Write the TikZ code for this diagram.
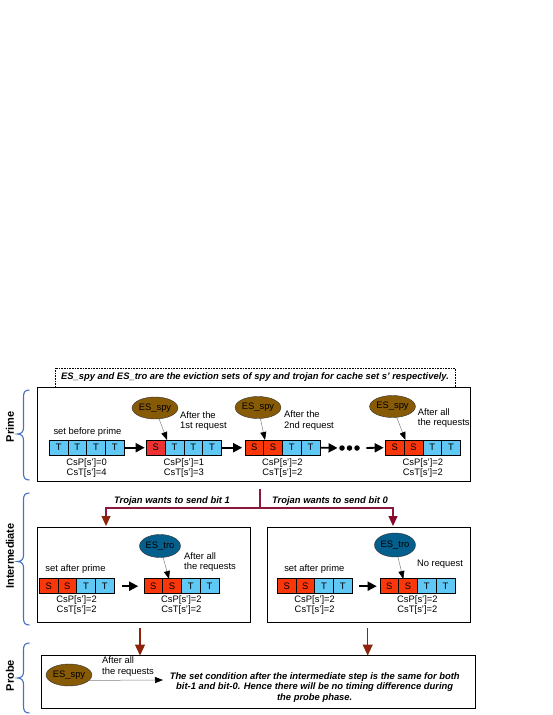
\documentclass[tikz,border=0pt]{standalone}
\usepackage{fontspec}
\setmainfont{Liberation Sans}
\usetikzlibrary{arrows.meta,shapes.geometric}
\definecolor{tblue}{RGB}{95,200,245}
\definecolor{sred}{RGB}{250,55,10}
\definecolor{sredb}{RGB}{238,50,50}
\definecolor{spybrown}{RGB}{135,90,5}
\definecolor{troblue}{RGB}{5,95,140}
\definecolor{maroonl}{RGB}{140,25,60}
\definecolor{redone}{RGB}{140,35,10}
\definecolor{redzero}{RGB}{135,10,45}
\definecolor{braceblue}{RGB}{68,114,196}
\newcommand\cellgrp[4]{%
  \foreach \l/\c [count=\i] in {#4}
    \node[cell, fill=\c] (#1-\i) at ({#2+(\i-0.5)*18.7}, #3) {\l};}
\newcommand\sbrace[3]{%
  \draw[sidebr] (29.5,#1) .. controls (25,#1) and (23.5,#1+2) .. (23.5,#1+7)
    -- (23.5,#2-6) .. controls (23.5,#2-2) and (21,#2) .. (17.5,#2)
    .. controls (21,#2) and (23.5,#2+2) .. (23.5,#2+6)
    -- (23.5,#3-7) .. controls (23.5,#3-2) and (25,#3) .. (29.5,#3);}
\begin{document}
\begin{tikzpicture}[x=1pt,y=-1pt,
  txt/.style={font=\fontsize{9.4}{10.5}\selectfont, inner sep=0pt},
  btxt/.style={font=\fontsize{9.4}{10.4}\selectfont\bfseries\itshape, inner sep=0pt},
  cell/.style={draw=black, line width=0.6pt, minimum width=18.7pt, minimum height=15pt, inner sep=0pt, font=\fontsize{9.4}{10}\selectfont},
  panel/.style={draw=black, line width=1pt, inner sep=0pt},
  es/.style={ellipse, draw=black!80, line width=0.4pt, minimum width=40pt, minimum height=22pt, inner sep=0pt, font=\fontsize{9.4}{10}\selectfont},
  conn/.style={draw=gray, line width=0.5pt, -{Triangle[length=8pt,width=6pt,color=black]}},
  big/.style={line width=1.8pt, -{Triangle[length=9pt,width=9pt]}},
  dot/.style={circle, fill=black, inner sep=0pt, minimum size=5.5pt},
  sidelbl/.style={rotate=90, font=\fontsize{11}{12}\selectfont\bfseries, inner sep=0pt},
  sidebr/.style={draw=braceblue, line width=1.1pt},
  redl/.style={draw=maroonl, line width=1.2pt},
  cs/.style={txt, align=center, font=\fontsize{9.4}{10}\selectfont}
]
\useasboundingbox (0,0) rectangle (553,715);

% side labels and braces
\node[sidelbl] (lprime) at (10,427) {Prime};
\node[sidelbl] (lint) at (10,556) {Intermediate};
\node[sidelbl] (lprobe) at (10,675.5) {Probe};
\sbrace{390}{434}{480}
\sbrace{493}{561.5}{625}
\sbrace{643}{678}{713}

% note
\node[draw=black, densely dotted, line width=0.6pt, minimum width=400pt, minimum height=19pt, btxt] (note) at (255,377.5)
  {ES\_spy and ES\_tro are the eviction sets of spy and trojan for cache set s' respectively.};

% prime panel
\node[panel, minimum width=433.7pt, minimum height=94pt] (pbox) at (253.85,434) {};
\cellgrp{g1}{49.3}{447.7}{T/tblue,T/tblue,T/tblue,T/tblue}
\cellgrp{g2}{146.5}{447.7}{S/sredb,T/tblue,T/tblue,T/tblue}
\cellgrp{g3}{245}{447.7}{S/sred,S/sred,T/tblue,T/tblue}
\cellgrp{g4}{385.5}{447.7}{S/sred,S/sred,T/tblue,T/tblue}
\node[dot] (d1) at (342,448) {};
\node[dot] (d2) at (349.5,448) {};
\node[dot] (d3) at (357,448) {};
\draw[big, shorten <=1pt, shorten >=1.5pt] (g1-4.east) -- (g2-1.west);
\draw[big, shorten <=0.5pt, shorten >=2.5pt] (g2-4.east) -- (g3-1.west);
\draw[big, shorten <=0.5pt, shorten >=1.5pt] (g3-4.east) -- (d1.west);
\draw[big, shorten <=6.5pt, shorten >=1.5pt] (d3.east) -- (g4-1.west);

\node[txt] (sbp) at (87.5,432) {set before prime};
\node[es, fill=spybrown] (e1) at (155,408) {ES\_spy};
\node[es, fill=spybrown] (e2) at (258,407.5) {ES\_spy};
\node[es, fill=spybrown] (e3) at (392.5,406.5) {ES\_spy};
\coordinate (c1) at (167,440);
\coordinate (c2) at (265,440);
\coordinate (c3) at (405.5,440);
\draw[conn] (e1) -- (c1);
\draw[conn] (e2) -- (c2);
\draw[conn] (e3) -- (c3);
\node[txt, anchor=west, align=left] (a1) at (180,421) {After the\\1st request};
\node[txt, anchor=west, align=left] (a2) at (284,420.5) {After the\\2nd request};
\node[txt, anchor=west, align=left] (a3) at (417.7,418) {After all\\the requests};
\node[cs] (cs1) at (86.7,468.3) {CsP[s']=0\\CsT[s']=4};
\node[cs] (cs2) at (183.9,468.3) {CsP[s']=1\\CsT[s']=3};
\node[cs] (cs3) at (282.4,468.3) {CsP[s']=2\\CsT[s']=2};
\node[cs] (cs4) at (422.9,468.3) {CsP[s']=2\\CsT[s']=2};

% branching red lines
\coordinate (rtop) at (260,489);
\coordinate (rmid) at (260,508);
\coordinate (b1) at (106,527);
\coordinate (b0) at (393,527);
\draw[redl] (rtop) -- (rmid);
\draw[redl, -{Triangle[length=10pt,width=9pt,color=redone]}, shorten >=1pt] (rmid) -| (b1);
\draw[redl, -{Triangle[length=10pt,width=9pt,color=redzero]}, shorten >=1pt] (rmid) -| (b0);
\node[btxt] (tb1) at (172,500.7) {Trojan wants to send bit 1};
\node[btxt] (tb0) at (330,500.7) {Trojan wants to send bit 0};

% intermediate left
\node[panel, minimum width=213pt, minimum height=95pt] (ibl) at (143.5,574.5) {};
\cellgrp{h1}{39.3}{586.2}{S/sred,S/sred,T/tblue,T/tblue}
\cellgrp{h2}{144}{586.2}{S/sred,S/sred,T/tblue,T/tblue}
\draw[big, shorten <=8pt, shorten >=5.5pt] (h1-4.east) -- (h2-1.west);
\node[txt] (sap1) at (75.5,569.3) {set after prime};
\node[es, fill=troblue, minimum width=41pt, minimum height=23pt] (etl) at (160,546) {ES\_tro};
\coordinate (c4) at (169,579);
\draw[conn] (etl) -- (c4);
\node[txt, anchor=west, align=left] (a4) at (184,562) {After all\\the requests};
\node[cs] (cs5) at (76.7,604.7) {CsP[s']=2\\CsT[s']=2};
\node[cs] (cs6) at (181.4,604.7) {CsP[s']=2\\CsT[s']=2};

% intermediate right
\node[panel, minimum width=202.3pt, minimum height=95pt] (ibr) at (368.85,574.5) {};
\cellgrp{k1}{277.3}{586.2}{S/sred,S/sred,T/tblue,T/tblue}
\cellgrp{k2}{380}{586.2}{S/sred,S/sred,T/tblue,T/tblue}
\draw[big, shorten <=7pt, shorten >=3pt] (k1-4.east) -- (k2-1.west);
\node[txt] (sap2) at (314.3,569.3) {set after prime};
\node[es, fill=troblue, minimum width=41pt, minimum height=24pt] (etr) at (395,545) {ES\_tro};
\coordinate (c5) at (403.3,579);
\draw[conn] (etr) -- (c5);
\node[txt] (nr) at (440,564.3) {No request};
\node[cs] (cs7) at (314.7,604.7) {CsP[s']=2\\CsT[s']=2};
\node[cs] (cs8) at (417.4,604.7) {CsP[s']=2\\CsT[s']=2};

% probe
\node[panel, minimum width=433.3pt, minimum height=53pt] (prb) at (258.35,682) {};
\coordinate (q1a) at (140,628);
\coordinate (q1b) at (140,655.5);
\coordinate (q0a) at (367.7,628);
\coordinate (q0b) at (367.7,655.5);
\draw[draw=redone, line width=1.2pt, -{Triangle[length=11pt,width=10pt,color=redone]}] (q1a) -- (q1b);
\draw[draw=redone, line width=1.2pt, -{Triangle[length=11pt,width=10pt,color=redone]}] (q0a) -- (q0b);
\node[es, fill=spybrown] (e5) at (69,675) {ES\_spy};
\coordinate (pa) at (163,680);
\draw[conn] (e5.-15) -- (pa);
\node[txt, anchor=west, align=left] (a5) at (102,666.5) {After all\\the requests};
\node[btxt, align=center] (ptxt) at (314.7,687.5) {The set condition after the intermediate step is the same for both\\bit-1 and bit-0. Hence there will be no timing difference during\\the probe phase.};
\end{tikzpicture}
\end{document}
